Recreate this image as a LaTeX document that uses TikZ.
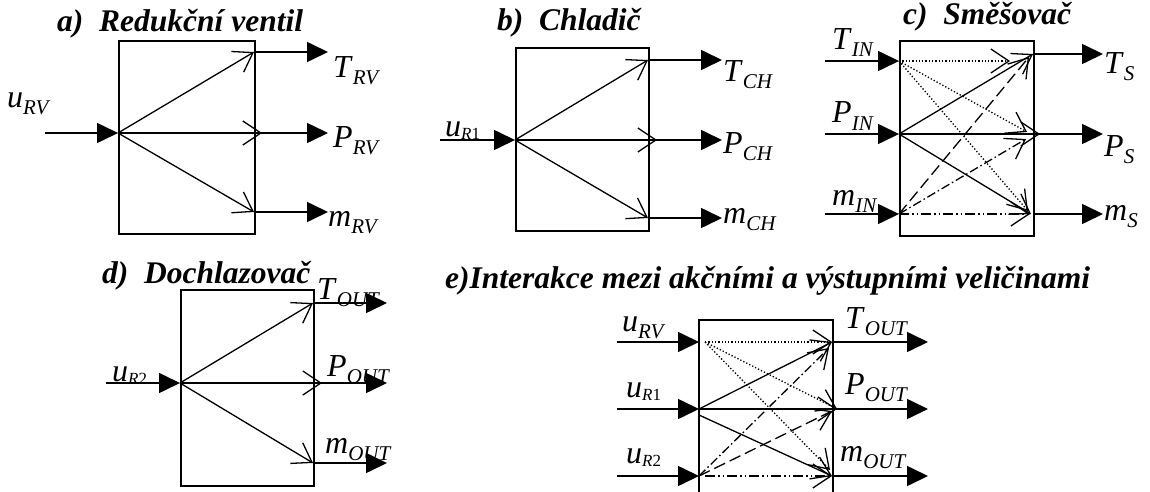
\documentclass[tikz,border=0pt]{standalone}
\usepackage{fontspec}
\setmainfont{Liberation Serif}
\usetikzlibrary{arrows.meta}
\newcommand\lbl[2]{\textit{#1}\raisebox{-7pt}{\fontsize{21}{21}\selectfont\textit{#2}}}
\newcommand\lblR[2]{\textit{#1}\raisebox{-3pt}{\fontsize{17}{17}\selectfont\textit{R}#2}}
\begin{document}
\begin{tikzpicture}[x=1pt,y=-1pt,
  blockbox/.style={draw, line width=1.6pt, inner sep=0pt, anchor=north west},
  flow/.style={line width=1.6pt, -{Triangle[length=21pt,width=20pt]}},
  sig/.style={line width=1.3pt, -{Straight Barb[length=18pt,width=24pt,line width=1.3pt]}},
  dotsig/.style={sig, dash pattern=on 1.3pt off 2pt},
  dashsig/.style={sig, dash pattern=on 12pt off 5pt},
  dashdotsig/.style={sig, dash pattern=on 9pt off 3pt on 1.5pt off 3pt},
  dddsig/.style={sig, dash pattern=on 10pt off 3pt on 1.5pt off 3pt on 1.5pt off 3pt},
  ttl/.style={font=\fontsize{31.5}{31.5}\selectfont\bfseries\itshape, anchor=base west, inner sep=0pt},
  lab/.style={font=\fontsize{32}{32}\selectfont, anchor=base west, inner sep=0pt}
]
\fill[white] (0,0) rectangle (1150,492);
\useasboundingbox (0,0) rectangle (1150,492);

% ---------- a) ----------
\node[ttl] (aTitle) at (57,32) {a)\ \ Redukční ventil};
\node[blockbox, minimum width=136pt, minimum height=193pt] (aBox) at (118,40) {};
\coordinate (aS) at (45,133); \coordinate (aI) at (118,133);
\coordinate (aT) at (254,52); \coordinate (aP) at (254,133); \coordinate (aM) at (254,212);
\coordinate (aPt) at (262,133);
\coordinate (aTo) at (328,52); \coordinate (aPo) at (328,133); \coordinate (aMo) at (328,212);
\draw[flow] (aS) -- (aI);
\draw[sig] (aI) -- (aT); \draw[sig] (aI) -- (aPt); \draw[sig] (aI) -- (aM);
\draw[flow] (aT) -- (aTo); \draw[flow] (aP) -- (aPo); \draw[flow] (aM) -- (aMo);
\node[lab] (aUl) at (7,107) {\lbl{u}{RV}};
\node[lab] (aTl) at (333,78) {\lbl{T}{RV}};
\node[lab] (aPl) at (333,147) {\lbl{P}{RV}};
\node[lab] (aMl) at (328,226) {\lbl{m}{RV}};

% ---------- b) ----------
\node[ttl] (bTitle) at (497,31) {b)\ \ Chladič};
\node[blockbox, minimum width=133pt, minimum height=183pt] (bBox) at (515,47) {};
\coordinate (bS) at (440,140); \coordinate (bI) at (515,140);
\coordinate (bT) at (648,60); \coordinate (bP) at (648,140); \coordinate (bM) at (648,218);
\coordinate (bPt) at (657,140);
\coordinate (bTo) at (722,60); \coordinate (bPo) at (722,140); \coordinate (bMo) at (722,218);
\draw[flow] (bS) -- (bI);
\draw[sig] (bI) -- (bT); \draw[sig] (bI) -- (bPt); \draw[sig] (bI) -- (bM);
\draw[flow] (bT) -- (bTo); \draw[flow] (bP) -- (bPo); \draw[flow] (bM) -- (bMo);
\node[lab] (bUl) at (445,136) {\lblR{u}{1}};
\node[lab] (bTl) at (723,82) {\lbl{T}{CH}};
\node[lab] (bPl) at (723,153) {\lbl{P}{CH}};
\node[lab] (bMl) at (723,223) {\lbl{m}{CH}};

% ---------- c) ----------
\node[ttl] (cTitle) at (903,25) {c)\ \ Směšovač};
\node[blockbox, minimum width=134pt, minimum height=195pt] (cBox) at (899,40) {};
\coordinate (cTs) at (825,61);  \coordinate (cTi) at (899,61);
\coordinate (cPs) at (825,134); \coordinate (cPi) at (899,134);
\coordinate (cMs) at (825,214); \coordinate (cMi) at (899,214);
\coordinate (cT) at (1033,54);  \coordinate (cTo) at (1103,54);
\coordinate (cP) at (1033,134); \coordinate (cPo) at (1103,134);
\coordinate (cM) at (1033,214); \coordinate (cMo) at (1103,214);
\coordinate (cTT) at (1010,61); \coordinate (cTP) at (1027,132); \coordinate (cTM) at (1028,211);
\coordinate (cPP) at (1040,134); \coordinate (cPM) at (1031,214);
\coordinate (cMT) at (1029,57); \coordinate (cMP) at (1026,139); \coordinate (cMM) at (1030,214);
\draw[flow] (cTs) -- (cTi); \draw[flow] (cPs) -- (cPi); \draw[flow] (cMs) -- (cMi);
\draw[flow] (cT) -- (cTo); \draw[flow] (cP) -- (cPo); \draw[flow] (cM) -- (cMo);
\draw[dotsig] (cTi) -- (cTT); \draw[dotsig] (cTi) -- (cTP); \draw[dotsig] (cTi) -- (cTM);
\draw[sig] (cPi) -- (cT); \draw[sig] (cPi) -- (cPP); \draw[sig] (cPi) -- (cPM);
\draw[dashsig] (cMi) -- (cMT); \draw[dashdotsig] (cMi) -- (cMP); \draw[dddsig] (cMi) -- (cMM);
\node[lab] (cTil) at (832,50) {\lbl{T}{IN}};
\node[lab] (cPil) at (832,123) {\lbl{P}{IN}};
\node[lab] (cMil) at (832,205) {\lbl{m}{IN}};
\node[lab] (cTl) at (1104,74) {\lbl{T}{S}};
\node[lab] (cPl) at (1104,156) {\lbl{P}{S}};
\node[lab] (cMl) at (1104,220) {\lbl{m}{S}};

% ---------- d) ----------
\node[ttl] (dTitle) at (102,283) {d)\ \ Dochlazovač};
\node[blockbox, minimum width=133pt, minimum height=196pt] (dBox) at (180,289) {};
\coordinate (dS) at (106,383); \coordinate (dI) at (180,383);
\coordinate (dT) at (313,303); \coordinate (dP) at (313,383); \coordinate (dM) at (313,463);
\coordinate (dPt) at (322,383);
\coordinate (dTo) at (387,303); \coordinate (dPo) at (387,383); \coordinate (dMo) at (387,463);
\draw[flow] (dS) -- (dI);
\draw[sig] (dI) -- (dT); \draw[sig] (dI) -- (dPt); \draw[sig] (dI) -- (dM);
\draw[flow] (dT) -- (dTo); \draw[flow] (dP) -- (dPo); \draw[flow] (dM) -- (dMo);
\node[lab] (dUl) at (112,381) {\lblR{u}{2}};
\node[lab] (dTl) at (317,299) {\lbl{T}{OUT}};
\node[lab] (dPl) at (327,376) {\lbl{P}{OUT}};
\node[lab] (dMl) at (325,453) {\lbl{m}{OUT}};

% ---------- e) ----------
\node[ttl] (eTitle) at (445,288) {e)Interakce mezi akčními a výstupními veličinami};
\coordinate (eBL) at (699,492); \coordinate (eTL) at (699,320);
\coordinate (eTR) at (833,320); \coordinate (eBR) at (833,492);
\draw[line width=1.6pt] (eBL) -- (eTL) -- (eTR) -- (eBR);
\coordinate (eAs) at (617,342); \coordinate (eAi) at (699,342); \coordinate (eAd) at (705,342);
\coordinate (eBs) at (617,409); \coordinate (eBi) at (699,409); \coordinate (eBd) at (699,415);
\coordinate (eCs) at (617,476); \coordinate (eCi) at (699,476); \coordinate (eCd) at (705,476);
\coordinate (eT) at (833,342); \coordinate (eTo) at (928,342);
\coordinate (eP) at (833,409); \coordinate (ePo) at (928,409);
\coordinate (eM) at (833,476); \coordinate (eMo) at (928,476);
\coordinate (eAT) at (832,342); \coordinate (eAP) at (837,409); \coordinate (eAM) at (830,470);
\coordinate (eBT) at (832,342); \coordinate (eBP) at (837,409); \coordinate (eBM) at (832,476);
\coordinate (eCT) at (829,348); \coordinate (eCP) at (832,411); \coordinate (eCM) at (832,476);
\draw[flow] (eAs) -- (eAi); \draw[flow] (eBs) -- (eBi); \draw[flow] (eCs) -- (eCi);
\draw[flow] (eT) -- (eTo); \draw[flow] (eP) -- (ePo); \draw[flow] (eM) -- (eMo);
\draw[dotsig] (eAd) -- (eAT); \draw[dotsig] (eAd) -- (eAP); \draw[dotsig] (eAd) -- (eAM);
\draw[sig] (eBi) -- (eBT); \draw[sig] (eBi) -- (eBP); \draw[sig] (eBd) -- (eBM);
\draw[dashdotsig] (eCi) -- (eCT); \draw[dashsig] (eCi) -- (eCP); \draw[dddsig] (eCd) -- (eCM);
\node[lab] (eUa) at (622,331) {\lbl{u}{RV}};
\node[lab] (eUb) at (626,397) {\lblR{u}{1}};
\node[lab] (eUc) at (626,463) {\lblR{u}{2}};
\node[lab] (eTl) at (845,328) {\lbl{T}{OUT}};
\node[lab] (ePl) at (845,394) {\lbl{P}{OUT}};
\node[lab] (eMl) at (840,461) {\lbl{m}{OUT}};
\end{tikzpicture}
\end{document}
